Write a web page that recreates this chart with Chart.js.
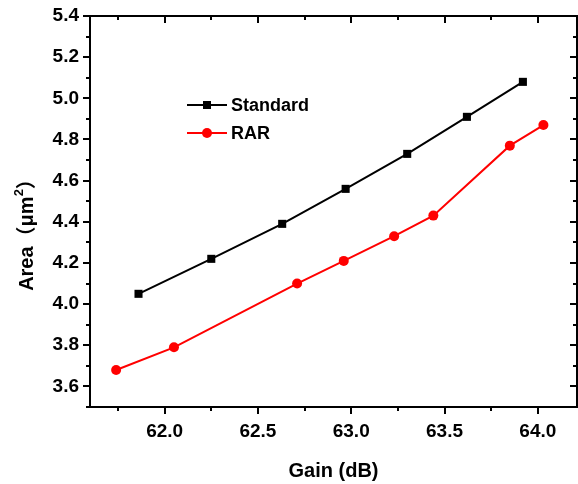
<!DOCTYPE html>
<html>
<head>
<meta charset="utf-8">
<script src="https://cdn.jsdelivr.net/npm/chart.js@4"></script>
<style>
  html, body { margin: 0; padding: 0; background: #fff; }
  #wrap { width: 578px; height: 484px; }
</style>
</head>
<body>
<div id="wrap"><canvas id="areaChart" width="578" height="484"></canvas></div>
<script>
// Gain (dB) vs cell area for both designs
const standardGain = [61.86, 62.25, 62.63, 62.97, 63.30, 63.62, 63.92];
const standardArea = [4.05, 4.22, 4.39, 4.56, 4.73, 4.91, 5.08];
const rarGain = [61.74, 62.05, 62.71, 62.96, 63.23, 63.44, 63.85, 64.03];
const rarArea = [3.68, 3.79, 4.10, 4.21, 4.33, 4.43, 4.77, 4.87];

const xTicks = [62.0, 62.5, 63.0, 63.5, 64.0];
const xMinor = [61.75, 62.25, 62.75, 63.25, 63.75];
const yTicks = [3.6, 3.8, 4.0, 4.2, 4.4, 4.6, 4.8, 5.0, 5.2, 5.4];
const yMinor = [3.5, 3.7, 3.9, 4.1, 4.3, 4.5, 4.7, 4.9, 5.1, 5.3];

const FONT = '"Liberation Sans", Arial, "Noto Sans CJK SC", sans-serif';

const toPoints = (xs, ys) => xs.map((x, i) => ({x: x, y: ys[i]}));

const series = [
    {label: 'Standard', color: '#000000', style: 'rect', radius: 5.7, data: toPoints(standardGain, standardArea)},
    {label: 'RAR', color: '#ff0000', style: 'circle', radius: 5, data: toPoints(rarGain, rarArea)}
];

// keep the plot box fixed: no extra room for edge labels
function noPad(scale) {
    scale.paddingLeft = 0;
    scale.paddingRight = 0;
    scale.paddingTop = 0;
    scale.paddingBottom = 0;
}

// frame, ticks on all four sides (out on left/bottom, in on top/right), titles and legend
const framePlugin = {
    id: 'frame',
    afterDraw(chart) {
        const ctx = chart.ctx;
        const a = chart.chartArea;
        const xs = chart.scales.x, ys = chart.scales.y;
        ctx.save();
        ctx.strokeStyle = '#000';
        ctx.lineWidth = 2;
        ctx.strokeRect(a.left, a.top, a.right - a.left, a.bottom - a.top);

        const tick = (vals, len) => {
            vals.forEach(v => {
                const px = Math.round(xs.getPixelForValue(v));
                ctx.beginPath();
                ctx.moveTo(px, a.bottom); ctx.lineTo(px, a.bottom + len);
                ctx.moveTo(px, a.top); ctx.lineTo(px, a.top + len);
                ctx.stroke();
            });
        };
        const ytick = (vals, len) => {
            vals.forEach(v => {
                const py = Math.round(ys.getPixelForValue(v));
                ctx.beginPath();
                ctx.moveTo(a.left, py); ctx.lineTo(a.left - len, py);
                ctx.moveTo(a.right, py); ctx.lineTo(a.right - len, py);
                ctx.stroke();
            });
        };
        tick(xTicks, 7); tick(xMinor, 4);
        ytick(yTicks, 7); ytick(yMinor, 4);

        // axis titles
        ctx.fillStyle = '#000';
        ctx.font = 'bold 20px ' + FONT;
        ctx.textAlign = 'center';
        ctx.textBaseline = 'middle';
        ctx.fillText('Gain (dB)', (a.left + a.right) / 2, 471);

        // y title: "Area（μm" then a raised "2" then "）"
        ctx.save();
        ctx.translate(27, 230);
        ctx.rotate(-Math.PI / 2);
        const head = 'Area（μm', sup = '2', tail = '）';
        const big = 'bold 20px ' + FONT, small = 'bold 13px ' + FONT;
        ctx.font = big;
        const wHead = ctx.measureText(head).width, wTail = ctx.measureText(tail).width;
        ctx.font = small;
        const wSup = ctx.measureText(sup).width;
        let x0 = -(wHead + wSup + wTail) / 2;
        ctx.textAlign = 'left';
        ctx.font = big;
        ctx.fillText(head, x0, 0);
        ctx.font = small;
        ctx.fillText(sup, x0 + wHead, -8);
        ctx.font = big;
        ctx.fillText(tail, x0 + wHead + wSup, 0);
        ctx.restore();

        // legend
        ctx.font = 'bold 18px ' + FONT;
        ctx.textAlign = 'left';
        series.forEach((s, i) => {
            const y = 105 + i * 28;
            ctx.strokeStyle = s.color;
            ctx.fillStyle = s.color;
            ctx.lineWidth = 2;
            ctx.beginPath();
            ctx.moveTo(187, y); ctx.lineTo(227, y);
            ctx.stroke();
            if (s.style === 'rect') {
                ctx.fillRect(203, y - 4, 8, 8);
            } else {
                ctx.beginPath();
                ctx.arc(207, y, 5, 0, Math.PI * 2);
                ctx.fill();
            }
            ctx.fillStyle = '#000';
            ctx.fillText(s.label, 231, y + 1);
        });
        ctx.restore();
    }
};

new Chart(document.getElementById('areaChart'), {
    type: 'line',
    data: {
        datasets: series.map(s => ({
            label: s.label,
            data: s.data,
            borderColor: s.color,
            backgroundColor: s.color,
            borderWidth: 2,
            pointStyle: s.style,
            pointRadius: s.radius,
            pointBorderWidth: 0,
            tension: 0
        }))
    },
    options: {
        responsive: false,
        animation: false,
        layout: {autoPadding: false, padding: {top: 16, right: 1, left: 0, bottom: 0}},
        plugins: {legend: {display: false}, tooltip: {enabled: false}},
        scales: {
            x: {
                type: 'linear',
                min: 61.6,
                max: 64.21,
                afterFit(scale) { scale.height = 77; noPad(scale); },
                afterBuildTicks(scale) { scale.ticks = xTicks.map(v => ({value: v})); },
                grid: {display: false, drawTicks: false},
                border: {display: false},
                ticks: {
                    color: '#000',
                    padding: 13,
                    maxRotation: 0,
                    font: {family: FONT, size: 19, weight: 'bold'},
                    callback: v => v.toFixed(1)
                }
            },
            y: {
                type: 'linear',
                min: 3.5,
                max: 5.4,
                afterFit(scale) { scale.width = 90; noPad(scale); },
                afterBuildTicks(scale) { scale.ticks = yTicks.map(v => ({value: v})); },
                grid: {display: false, drawTicks: false},
                border: {display: false},
                ticks: {
                    color: '#000',
                    padding: 11,
                    font: {family: FONT, size: 19, weight: 'bold'},
                    callback: v => v.toFixed(1)
                }
            }
        }
    },
    plugins: [framePlugin]
});
</script>
</body>
</html>
